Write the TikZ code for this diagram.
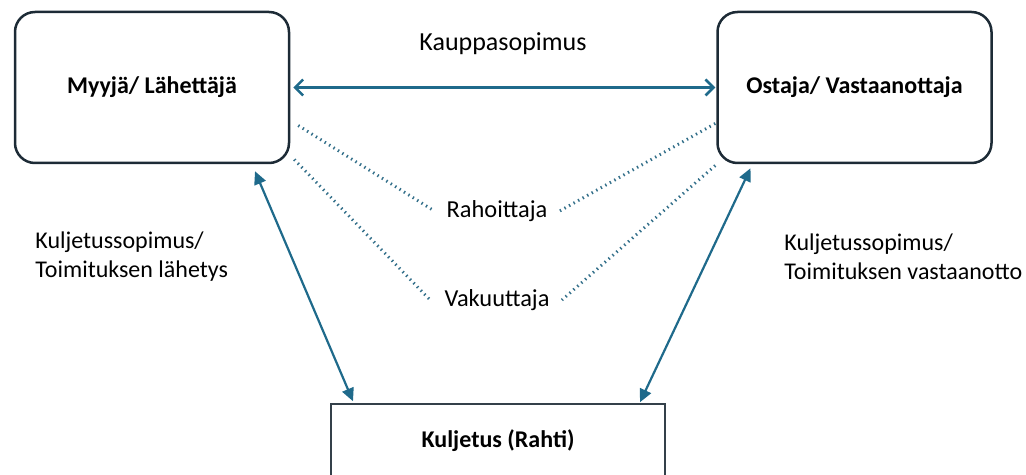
\documentclass[tikz,border=0pt]{standalone}
\usepackage{fontspec}
\setmainfont{Carlito}
\usetikzlibrary{arrows.meta,positioning,calc}
\definecolor{Ink}{HTML}{1D2B36}
\definecolor{Flow}{HTML}{1F6A8B}
\definecolor{Dots}{HTML}{336F8A}

\tikzset{
  party/.style={draw=Ink,line width=1.25pt,rounded corners=10pt,minimum width=137pt,minimum height=75.5pt,font=\fontsize{12}{14}\selectfont\bfseries},
  carrier/.style={draw=Ink!90,line width=0.75pt,minimum width=167pt,minimum height=37pt,font=\fontsize{12}{14}\selectfont\bfseries},
  lbl/.style={font=\fontsize{12.2}{14}\selectfont,inner sep=2pt},
  sidelbl/.style={font=\fontsize{12}{14.5}\selectfont,inner sep=2pt,anchor=west,align=left},
  flow/.style={draw=Flow,line width=1.1pt},
  dotline/.style={draw=Dots,line width=1.5pt,dash pattern=on 0.7pt off 1.9pt}
}

\begin{document}
\begin{tikzpicture}[x=0.5pt,y=-0.5pt]
\useasboundingbox (0,0) rectangle (1026,475);
\clip (0,0) rectangle (1026,475);
% parties
\node[party] (seller) at (152,87.5) {Myyjä/ Lähettäjä};
\node[party] (buyer) at (854.5,87.5) {Ostaja/ Vastaanottaja};
\node[carrier] (freight) at (498,441) {Kuljetus (Rahti)};
% texts
\node[lbl,font=\fontsize{13}{14}\selectfont] (deal) at (503,44) {Kauppasopimus};
\node[lbl] (bank) at (497,211) {Rahoittaja};
\node[lbl] (insurer) at (497,300) {Vakuuttaja};
\node[sidelbl] (sendtxt) at (31,257) {Kuljetussopimus/\\Toimituksen lähetys};
\node[sidelbl] (recvtxt) at (780,257) {Kuljetussopimus/\\Toimituksen vastaanotto};
% sales contract
\draw[flow,line width=1.25pt,{Straight Barb[length=4pt,width=8pt]}-{Straight Barb[length=4pt,width=8pt]},shorten <=1.5pt,shorten >=0.5pt] (seller.east) -- (buyer.west);
% financier and insurer
\draw[dotline] ([xshift=4pt,yshift=-19pt]seller.east) -- ([xshift=-4pt]bank.west);
\draw[dotline] ([xshift=2pt,yshift=-36pt]seller.east) -- ([xshift=-5pt]insurer.west);
\draw[dotline] ([xshift=-0.5pt,yshift=-18pt]buyer.west) -- ([xshift=4pt]bank.east);
\draw[dotline] ([xshift=-0.5pt,yshift=-39pt]buyer.west) -- ([xshift=4pt]insurer.east);
% transport contracts
\draw[flow,{Triangle[length=6.5pt,width=6pt]}-{Triangle[length=6.5pt,width=6pt]}] ([xshift=51.5pt,yshift=-3.5pt]seller.south) -- ([xshift=-72.5pt,yshift=1pt]freight.north);
\draw[flow,{Triangle[length=6.5pt,width=6pt]}-{Triangle[length=6.5pt,width=6pt]}] ([xshift=-52pt,yshift=-2pt]buyer.south) -- ([xshift=71pt,yshift=0.5pt]freight.north);
\end{tikzpicture}
\end{document}
